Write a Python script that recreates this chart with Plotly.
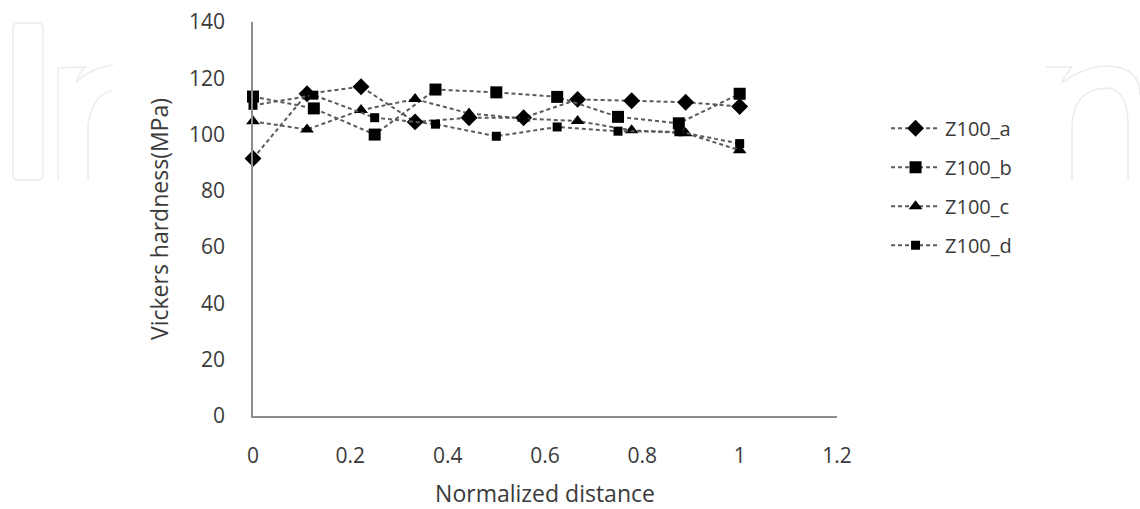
import plotly.graph_objects as go

# Data
x_a = [0, 0.111, 0.222, 0.333, 0.444, 0.556, 0.667, 0.778, 0.889, 1]
z100_a = [91.5, 114.5, 117, 104.5, 106, 106, 112.5, 112, 111.5, 110]

x_b = [0, 0.125, 0.25, 0.375, 0.5, 0.625, 0.75, 0.875, 1]
z100_b = [113.5, 109.3, 100, 116, 115, 113.4, 106.3, 104, 114.5]

x_c = [0, 0.111, 0.222, 0.333, 0.444, 0.556, 0.667, 0.778, 0.889, 1]
z100_c = [104.7, 101.8, 108.7, 112.6, 107.5, 105.7, 104.8, 101.5, 100.5, 94.4]

x_d = [0, 0.125, 0.25, 0.375, 0.5, 0.625, 0.75, 0.875, 1]
z100_d = [110.4, 114, 106, 103.7, 99.4, 102.7, 101.2, 101, 96.8]

names = ["Z100_a", "Z100_b", "Z100_c", "Z100_d"]
symbols = ["diamond", "square", "triangle-up", "square"]
sizes = [13, 12, 12, 9]

FONT = "Open Sans"
TXT = "#3a3a3a"

W, H = 1140, 509
ML, MR, MT, MB = 253, 303, 22, 93
PW, PH = W - ML - MR, H - MT - MB


def px(x, y):
    """pixel position in the page -> paper coordinates (watermark only)"""
    return (x - ML) / PW, (H - MB - y) / PH


def path(cmds):
    out = []
    for c in cmds:
        if isinstance(c, str):
            out.append(c)
        else:
            a, b = px(*c)
            out.append(f"{a:.4f},{b:.4f}")
    return " ".join(out)


fig = go.Figure()
for xs, ys, nm, sym, sz in zip([x_a, x_b, x_c, x_d], [z100_a, z100_b, z100_c, z100_d],
                                names, symbols, sizes):
    fig.add_trace(go.Scatter(
        x=xs, y=ys, name=nm, mode="lines+markers",
        line=dict(color="#5a5a5a", width=2, dash="4px,3px"),
        marker=dict(symbol=sym, size=sz, color="black", line=dict(width=0)),
        legendgroup=nm, cliponaxis=False,
    ))

# faint background watermark outlines
wm = dict(color="#ececec", width=1.5)
shapes = [
    dict(type="path", xref="paper", yref="paper", layer="below", line=wm,
         path=path(["M", (16, 23), "L", (40, 23), "L", (43, 26), "L", (43, 177), "L", (40, 180),
                    "L", (16, 180), "L", (13, 177), "L", (13, 26), "Z"])),
    dict(type="path", xref="paper", yref="paper", layer="below", line=wm,
         path=path(["M", (58, 180), "L", (58, 68), "L", (85, 67), "Q", (80, 72), (76, 82),
                    "Q", (90, 68), (113, 65)])),
    dict(type="path", xref="paper", yref="paper", layer="below", line=wm,
         path=path(["M", (88, 180), "L", (88, 125), "Q", (92, 95), (113, 90)])),
    dict(type="path", xref="paper", yref="paper", layer="below", line=wm,
         path=path(["M", (1046, 67), "L", (1072, 67), "Q", (1066, 74), (1062, 82),
                    "Q", (1085, 67), (1105, 66), "Q", (1140, 66), (1140, 95)])),
    dict(type="path", xref="paper", yref="paper", layer="below", line=wm,
         path=path(["M", (1072, 180), "L", (1072, 125), "Q", (1074, 90), (1105, 88),
                    "Q", (1128, 88), (1128, 125), "L", (1128, 180)])),
]

fig.update_layout(
    width=W, height=H,
    margin=dict(l=ML, r=MR, t=MT, b=MB),
    paper_bgcolor="white", plot_bgcolor="white",
    font=dict(family=FONT, color=TXT, size=21),
    showlegend=True,
    shapes=shapes,
    legend=dict(x=1.084, y=0.78, xanchor="left", yanchor="top",
                font=dict(family=FONT, size=20, color=TXT),
                traceorder="grouped", tracegroupgap=10, itemwidth=49,
                bgcolor="rgba(0,0,0,0)"),
    xaxis=dict(range=[0, 1.2], tickvals=[0, 0.2, 0.4, 0.6, 0.8, 1, 1.2],
               ticktext=["0", "0.2", "0.4", "0.6", "0.8", "1", "1.2"],
               showgrid=False, zeroline=False, showline=True, linecolor="#8c8c8c",
               linewidth=1.5, ticks="", ticklabelstandoff=20, automargin=False,
               tickfont=dict(size=21, color=TXT),
               title=dict(text="Normalized distance", font=dict(size=23, color=TXT), standoff=24)),
    yaxis=dict(range=[0, 140], dtick=20, showgrid=False, zeroline=False,
               showline=True, linecolor="#8c8c8c", linewidth=1.5, ticks="",
               ticklabelstandoff=22, automargin=False, tickfont=dict(size=21, color=TXT),
               title=dict(text="Vickers hardness(MPa)", font=dict(size=23, color=TXT), standoff=14)),
)

fig.write_html("out.html",
               config={"displayModeBar": False},
               post_script="document.body.style.margin='0';document.body.style.overflow='hidden';")
